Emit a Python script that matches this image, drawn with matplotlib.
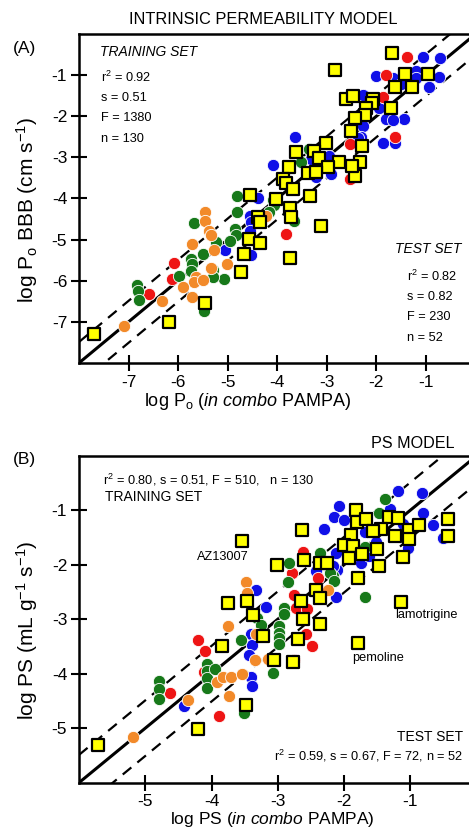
import numpy as np
import matplotlib
matplotlib.use('Agg')
import matplotlib.pyplot as plt

plt.rcParams['font.family'] = ['Liberation Sans', 'DejaVu Sans']
plt.rcParams['mathtext.fontset'] = 'custom'
plt.rcParams['mathtext.rm'] = 'Liberation Sans'
plt.rcParams['mathtext.it'] = 'Liberation Sans:italic'
plt.rcParams['axes.unicode_minus'] = False

# ---------- panel A: intrinsic permeability model ----------
a_blue_x = [-1.07, -0.71, -2.00, -1.66, -1.20, -1.20, -0.73, -0.93, -1.50, -2.28, -1.94, -1.80,
            -1.44, -2.28, -1.67, -3.65, -2.31, -1.87, -1.62, -3.32, -4.09, -2.95, -2.91, -3.22,
            -4.39, -4.56, -4.53, -5.06, -4.53, -2.38, -4.56]
a_blue_y = [-0.57, -0.59, -1.02, -1.06, -0.91, -1.06, -1.04, -1.29, -1.22, -1.49, -1.81, -2.07,
            -2.07, -2.23, -2.09, -2.50, -2.50, -2.64, -2.65, -3.04, -3.18, -2.96, -3.41, -3.49,
            -3.98, -4.43, -4.58, -5.26, -5.38, -2.52, -4.79]
a_red_x = [-1.39, -1.80, -1.87, -1.62, -2.54, -2.54, -3.83, -6.09, -6.12, -6.59]
a_red_y = [-0.57, -1.00, -1.54, -2.50, -2.68, -3.53, -4.86, -5.57, -5.95, -6.33]
a_green_x = [-3.35, -3.52, -4.82, -4.09, -4.06, -4.16, -4.82, -5.68, -4.86, -4.84, -4.59, -5.23,
             -4.96, -5.49, -5.74, -5.73, -5.75, -5.98, -5.29, -5.07, -6.83, -6.80, -6.78, -5.47,
             -3.67, -5.30]
a_green_y = [-2.80, -3.12, -3.94, -4.03, -4.16, -4.34, -4.32, -4.60, -4.75, -4.89, -4.99, -5.07,
             -5.03, -5.36, -5.48, -5.60, -5.76, -5.89, -5.73, -5.95, -6.11, -6.26, -6.46, -6.73,
             -4.55, -5.92]
a_orange_x = [-5.45, -5.45, -5.38, -5.33, -5.72, -5.28, -5.01, -5.33, -5.64, -5.68, -5.90, -5.72,
              -6.33, -7.10, -4.22, -5.49]
a_orange_y = [-4.32, -4.55, -4.79, -4.89, -5.11, -5.25, -5.60, -5.70, -5.92, -6.04, -6.15, -6.39,
              -6.49, -7.09, -4.42, -5.99]
a_test_x = [-1.68, -2.83, -1.42, -0.95, -1.62, -1.29, -2.61, -2.48, -2.07, -2.09, -2.21, -1.70,
            -2.24, -2.44, -2.52, -2.30, -2.34, -2.44, -3.01, -3.25, -3.63, -3.15, -2.75, -2.98,
            -3.77, -3.39, -3.22, -3.89, -3.83, -3.69, -4.56, -4.02, -3.34, -3.75, -3.72, -4.38,
            -4.34, -3.11, -4.57, -4.34, -4.68, -3.74, -4.74, -5.45, -6.18, -7.70, -2.50]
a_test_y = [-0.47, -0.87, -0.98, -0.98, -1.28, -1.28, -1.58, -1.50, -1.58, -1.69, -1.80, -1.80,
            -1.97, -2.05, -2.36, -2.72, -3.12, -3.45, -2.65, -2.84, -2.87, -3.02, -3.12, -3.23,
            -3.23, -3.37, -3.35, -3.53, -3.63, -3.77, -3.92, -4.02, -3.94, -4.24, -4.44, -4.44,
            -4.58, -4.67, -4.99, -5.09, -5.36, -5.44, -5.79, -6.55, -7.00, -7.29, -3.20]
a_s = 0.51

# ---------- panel B: PS model ----------
b_blue_x = [-1.19, -0.83, -2.07, -2.16, -2.00, -2.30, -1.69, -1.31, -0.81, -0.66, -0.51, -1.04,
            -1.11, -1.52, -2.12, -1.74, -2.10, -2.42, -2.17, -2.12, -3.33, -3.18, -3.41, -3.39,
            -3.43, -3.40, -3.39, -4.42, -1.62]
b_blue_y = [-0.65, -0.69, -0.92, -1.13, -1.18, -1.35, -1.40, -0.98, -1.06, -1.27, -1.51, -1.70,
            -1.26, -1.59, -1.79, -1.97, -2.10, -2.12, -2.02, -2.59, -2.46, -2.77, -3.28, -3.48,
            -3.65, -4.06, -4.23, -4.60, -1.84]
b_red_x = [-2.62, -2.78, -2.40, -2.75, -2.73, -2.56, -2.58, -2.48, -2.75, -4.20, -4.10, -4.12,
           -4.62, -3.89]
b_red_y = [-1.77, -2.15, -2.24, -2.56, -2.80, -2.82, -3.28, -3.49, -3.74, -3.39, -3.59, -3.97,
           -4.36, -4.78]
b_green_x = [-1.39, -1.47, -1.69, -2.17, -2.22, -2.15, -2.83, -2.85, -2.37, -1.68, -2.90, -2.90,
             -3.31, -3.26, -3.56, -2.98, -2.98, -2.98, -2.98, -3.08, -4.07, -4.07, -4.07, -4.07,
             -3.95, -3.51, -4.80, -4.80, -4.80]
b_green_y = [-0.80, -1.06, -1.68, -2.21, -2.15, -2.30, -1.97, -2.31, -1.78, -2.59, -2.79, -2.90,
             -2.97, -3.10, -3.38, -3.13, -3.25, -3.34, -3.46, -3.99, -3.83, -3.95, -4.08, -4.26,
             -3.91, -4.72, -4.14, -4.29, -4.47]
b_orange_x = [-3.48, -3.46, -2.25, -3.75, -3.33, -3.34, -3.15, -3.92, -3.82, -3.70, -3.54, -3.73,
              -4.35, -5.18]
b_orange_y = [-2.32, -2.52, -2.47, -3.12, -3.28, -3.74, -3.73, -4.16, -4.06, -4.06, -4.01, -4.41,
              -4.49, -5.17]
b_test_x = [-3.54, -2.63, -1.82, -1.81, -1.67, -1.32, -1.18, -1.45, -1.57, -1.23, -1.02, -1.02,
            -0.87, -0.43, -0.44, -1.89, -2.00, -1.86, -1.73, -1.92, -1.50, -1.11, -1.47, -1.79,
            -3.01, -2.60, -2.37, -2.26, -2.42, -2.37, -2.65, -3.47, -3.75, -3.37, -2.62, -2.36,
            -3.22, -2.70, -3.84, -3.06, -2.77, -1.79, -1.14, -3.48, -4.20, -5.72]
b_test_y = [-1.56, -1.37, -0.99, -1.22, -1.17, -1.13, -1.15, -1.35, -1.38, -1.47, -1.37, -1.53,
            -1.27, -1.17, -1.47, -1.45, -1.63, -1.65, -1.81, -1.87, -1.71, -1.85, -2.03, -2.24,
            -2.01, -1.92, -1.97, -1.97, -2.46, -2.61, -2.66, -2.66, -2.70, -2.92, -2.99, -3.08,
            -3.31, -3.36, -3.49, -3.75, -3.79, -3.44, -2.68, -4.57, -5.01, -5.31]
b_s = 0.51

colors = {'blue': '#1010e8', 'red': '#ee1515', 'green': '#17791a', 'orange': '#f28a2a'}

fig = plt.figure(figsize=(4.69, 8.30), dpi=100)
axA = fig.add_axes([0.1684, 0.5627, 0.8456, 0.3964])
axB = fig.add_axes([0.1684, 0.0570, 0.8480, 0.3940])


def draw(ax, lim, s, groups, tx, ty):
    xs = np.array(lim)
    ax.plot(xs, xs, color='black', lw=2.2, zorder=2)
    ax.plot(xs, xs + s, color='black', lw=1.6, ls=(0, (5, 3.5)), zorder=2)
    ax.plot(xs, xs - s, color='black', lw=1.6, ls=(0, (5, 3.5)), zorder=2)
    for c, (gx, gy) in groups.items():
        ax.scatter(gx, gy, s=78, color=colors[c], edgecolors='white', linewidths=0.6, zorder=3)
    ax.scatter(tx, ty, s=70, marker='s', color='#ffff00', edgecolors='black', linewidths=1.6, zorder=4)
    for side in ['left', 'bottom', 'top', 'right']:
        ax.spines[side].set_linewidth(1.8)
    ax.tick_params(direction='inout', length=11, width=1.5, labelsize=12.5, pad=3)


draw(axA, (-8, 0), a_s,
     {'blue': (a_blue_x, a_blue_y), 'red': (a_red_x, a_red_y),
      'green': (a_green_x, a_green_y), 'orange': (a_orange_x, a_orange_y)},
     a_test_x, a_test_y)
axA.set_xlim(-8, 0)
axA.set_ylim(-8, 0)
axA.set_xticks(range(-7, 0))
axA.set_yticks(range(-7, 0))

draw(axB, (-6, 0), b_s,
     {'blue': (b_blue_x, b_blue_y), 'red': (b_red_x, b_red_y),
      'green': (b_green_x, b_green_y), 'orange': (b_orange_x, b_orange_y)},
     b_test_x, b_test_y)
axB.set_xlim(-6, 0)
axB.set_ylim(-6, 0)
axB.set_xticks(range(-5, 0))
axB.set_yticks(range(-5, 0))

# panel A texts
fig.text(0.561, 0.976, 'INTRINSIC PERMEABILITY MODEL', ha='center', va='center', fontsize=11.8)
fig.text(0.052, 0.942, '(A)', ha='center', va='center', fontsize=12.5)
fig.text(0.213, 0.937, 'TRAINING SET', ha='left', va='center', fontsize=10, style='italic')
fig.text(0.215, 0.907, r'r$^2$ = 0.92', ha='left', va='center', fontsize=9.2)
fig.text(0.215, 0.882, 's = 0.51', ha='left', va='center', fontsize=9.2)
fig.text(0.215, 0.858, 'F = 1380', ha='left', va='center', fontsize=9.2)
fig.text(0.215, 0.833, 'n = 130', ha='left', va='center', fontsize=9.2)
fig.text(0.983, 0.700, 'TEST SET', ha='right', va='center', fontsize=10, style='italic')
fig.text(0.868, 0.667, r'r$^2$ = 0.82', ha='left', va='center', fontsize=9.2)
fig.text(0.868, 0.642, 's = 0.82', ha='left', va='center', fontsize=9.2)
fig.text(0.868, 0.618, 'F = 230', ha='left', va='center', fontsize=9.2)
fig.text(0.868, 0.593, 'n = 52', ha='left', va='center', fontsize=9.2)
fig.text(0.058, 0.747, r'log P$_{\rm o}$ BBB (cm s$^{-1}$)', rotation=90, ha='center', va='center', fontsize=15)
fig.text(0.529, 0.516, r'log P$_{\rm o}$ ($\it{in\ combo}$ PAMPA)', ha='center', va='center', fontsize=13)

# panel B texts
fig.text(0.881, 0.466, 'PS MODEL', ha='center', va='center', fontsize=11.6)
fig.text(0.052, 0.446, '(B)', ha='center', va='center', fontsize=12.5)
fig.text(0.220, 0.422, r'r$^2$ = 0.80, s = 0.51, F = 510,   n = 130', ha='left', va='center', fontsize=9.2)
fig.text(0.224, 0.401, 'TRAINING SET', ha='left', va='center', fontsize=10)
fig.text(0.420, 0.329, 'AZ13007', ha='left', va='center', fontsize=9.2)
fig.text(0.842, 0.259, 'lamotrigine', ha='left', va='center', fontsize=9.2)
fig.text(0.751, 0.207, 'pemoline', ha='left', va='center', fontsize=9.2)
fig.text(0.987, 0.112, 'TEST SET', ha='right', va='center', fontsize=10)
fig.text(0.987, 0.089, r'r$^2$ = 0.59, s = 0.67, F = 72, n = 52', ha='right', va='center', fontsize=9.2)
fig.text(0.058, 0.240, r'log PS (mL g$^{-1}$ s$^{-1}$)', rotation=90, ha='center', va='center', fontsize=15)
fig.text(0.580, 0.001, r'log PS ($\it{in\ combo}$ PAMPA)', ha='center', va='bottom', fontsize=12.5)

plt.savefig('out.png', dpi=100)
